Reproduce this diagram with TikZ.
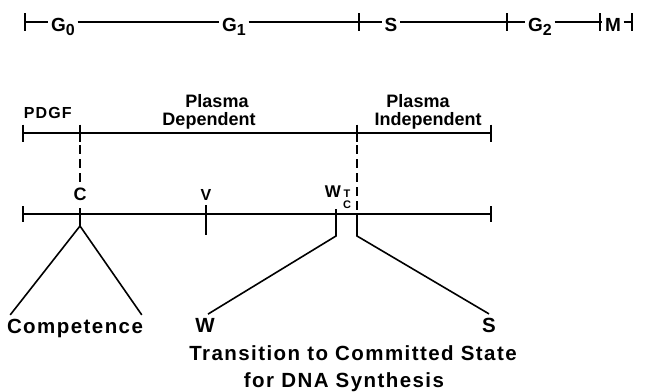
\documentclass[tikz,border=0pt]{standalone}
\usepackage{fontspec}
\setmainfont{Liberation Sans}
\newfontfamily\widefont[LetterSpace=7]{Liberation Sans}
\usetikzlibrary{positioning}

\newcommand{\phasesub}[2]{#1\raisebox{-4.5pt}{\fontsize{16}{16}\selectfont #2}}

\begin{document}
\begin{tikzpicture}[
        x=1pt, y=-1pt,
        line width=1.6pt,
        phase/.style={
            anchor=base,
            inner sep=2pt,
            font=\bfseries\fontsize{19}{19}\selectfont
        },
        stage/.style={
            anchor=base,
            inner sep=2pt,
            font=\bfseries\fontsize{18}{18}\selectfont
        },
        point/.style={
            anchor=base,
            inner sep=3pt,
            font=\bfseries\fontsize{17}{17}\selectfont
        },
        smalllabel/.style={
            inner sep=1pt,
            font=\bfseries\fontsize{11}{11}\selectfont
        },
        caption/.style={
            anchor=base,
            inner sep=3pt,
            font=\widefont\bfseries\fontsize{20.5}{20.5}\selectfont
        },
        dashline/.style={
            dash pattern=on 9pt off 5pt
        }
    ]

    \useasboundingbox (0,0) rectangle (645,391);

    % Cell cycle phases
    \coordinate (t0) at (25,22);
    \coordinate (t1) at (359,22);
    \coordinate (t2) at (507,22);
    \coordinate (t3) at (600,22);
    \coordinate (t4) at (632,22);

    \node[phase] (g0) at (63,31) {\phasesub{G}{0}};
    \node[phase] (g1) at (234,31) {\phasesub{G}{1}};
    \node[phase] (s) at (391,31) {S};
    \node[phase] (g2) at (540,31) {\phasesub{G}{2}};
    \node[phase] (m) at (613,31) {M};

    \draw (t0) -- (t0 -| g0.west);
    \draw (g0.east |- t0) -- (g1.west |- t0);
    \draw (g1.east |- t1) -- (t1);
    \draw (t1) -- (s.west |- t1);
    \draw (s.east |- t2) -- (t2);
    \draw (t2) -- (g2.west |- t2);
    \draw (g2.east |- t3) -- (t3);
    \draw (t3) -- (m.west |- t3);
    \draw (m.east |- t4) -- (t4);
    \foreach \t in {t0,t1,t2,t3,t4}
        \draw ([yshift=9pt]\t) -- ([yshift=-9pt]\t);

    % Growth factor requirements
    \coordinate (p0) at (23,133);
    \coordinate (p1) at (80,133);
    \coordinate (p2) at (357,133);
    \coordinate (p3) at (491,133);
    \draw (p0) -- (p3);
    \foreach \p in {p0,p1,p2,p3}
        \draw ([yshift=8.5pt]\p) -- ([yshift=-8.5pt]\p);

    \node[stage, anchor=base west,
        font=\widefont\bfseries\fontsize{16}{16}\selectfont] (pdgf) at (21,118) {PDGF};
    \node[stage] (plasmadep) at (217,107) {Plasma};
    \node[stage] (dep) at (209,125) {Dependent};
    \node[stage] (plasmaind) at (418,107) {Plasma};
    \node[stage] (indep) at (428,125) {Independent};

    % Restriction points
    \coordinate (q0) at (23,214);
    \coordinate (qc) at (80,214);
    \coordinate (qv) at (206,214);
    \coordinate (qw) at (336,214);
    \coordinate (qs) at (357,214);
    \coordinate (q3) at (491,214);
    \draw (q0) -- (q3);
    \foreach \q in {q0,q3}
        \draw ([yshift=8pt]\q) -- ([yshift=-8pt]\q);
    \draw ([yshift=9pt]qv) -- ([yshift=-21pt]qv);

    \node[point, font=\bfseries\fontsize{18}{18}\selectfont] (c) at (80,200) {C};
    \node[point, font=\bfseries\fontsize{16}{16}\selectfont] (v) at (206,200) {V};
    \node[point] (w) at (333,197) {W};
    \node[smalllabel, anchor=base] (tw) at (347,197) {T};
    \node[smalllabel, below=0.5pt of tw] (cw) {C};

    % Links between the two lines
    \draw[dashline] ([yshift=-12pt]p1) -- (c.north);
    \draw[dashline] ([yshift=-12pt]p2) -- (qs);

    % Competence branch
    \coordinate (capex) at (80,226);
    \draw ([yshift=6pt]qc) -- (capex);
    \node[caption] (comp) at (75,333) {Competence};
    \draw ([xshift=7pt]comp.north west) -- (capex) -- ([xshift=-5pt]comp.north east);

    % Commitment branch
    \coordinate (wbend) at (336,236);
    \coordinate (sbend) at (357,236);
    \node[caption] (wend) at (205,332) {W};
    \node[caption] (send) at (489,332) {S};
    \draw ([yshift=5pt]qw) -- (wbend) -- ([xshift=3pt]wend.north);
    \draw (qs) -- (sbend) -- (send.north);

    \node[caption] (trans) at (353,360) {Transition to Committed State};
    \node[caption] (dna) at (344,387) {for DNA Synthesis};

\end{tikzpicture}
\end{document}
